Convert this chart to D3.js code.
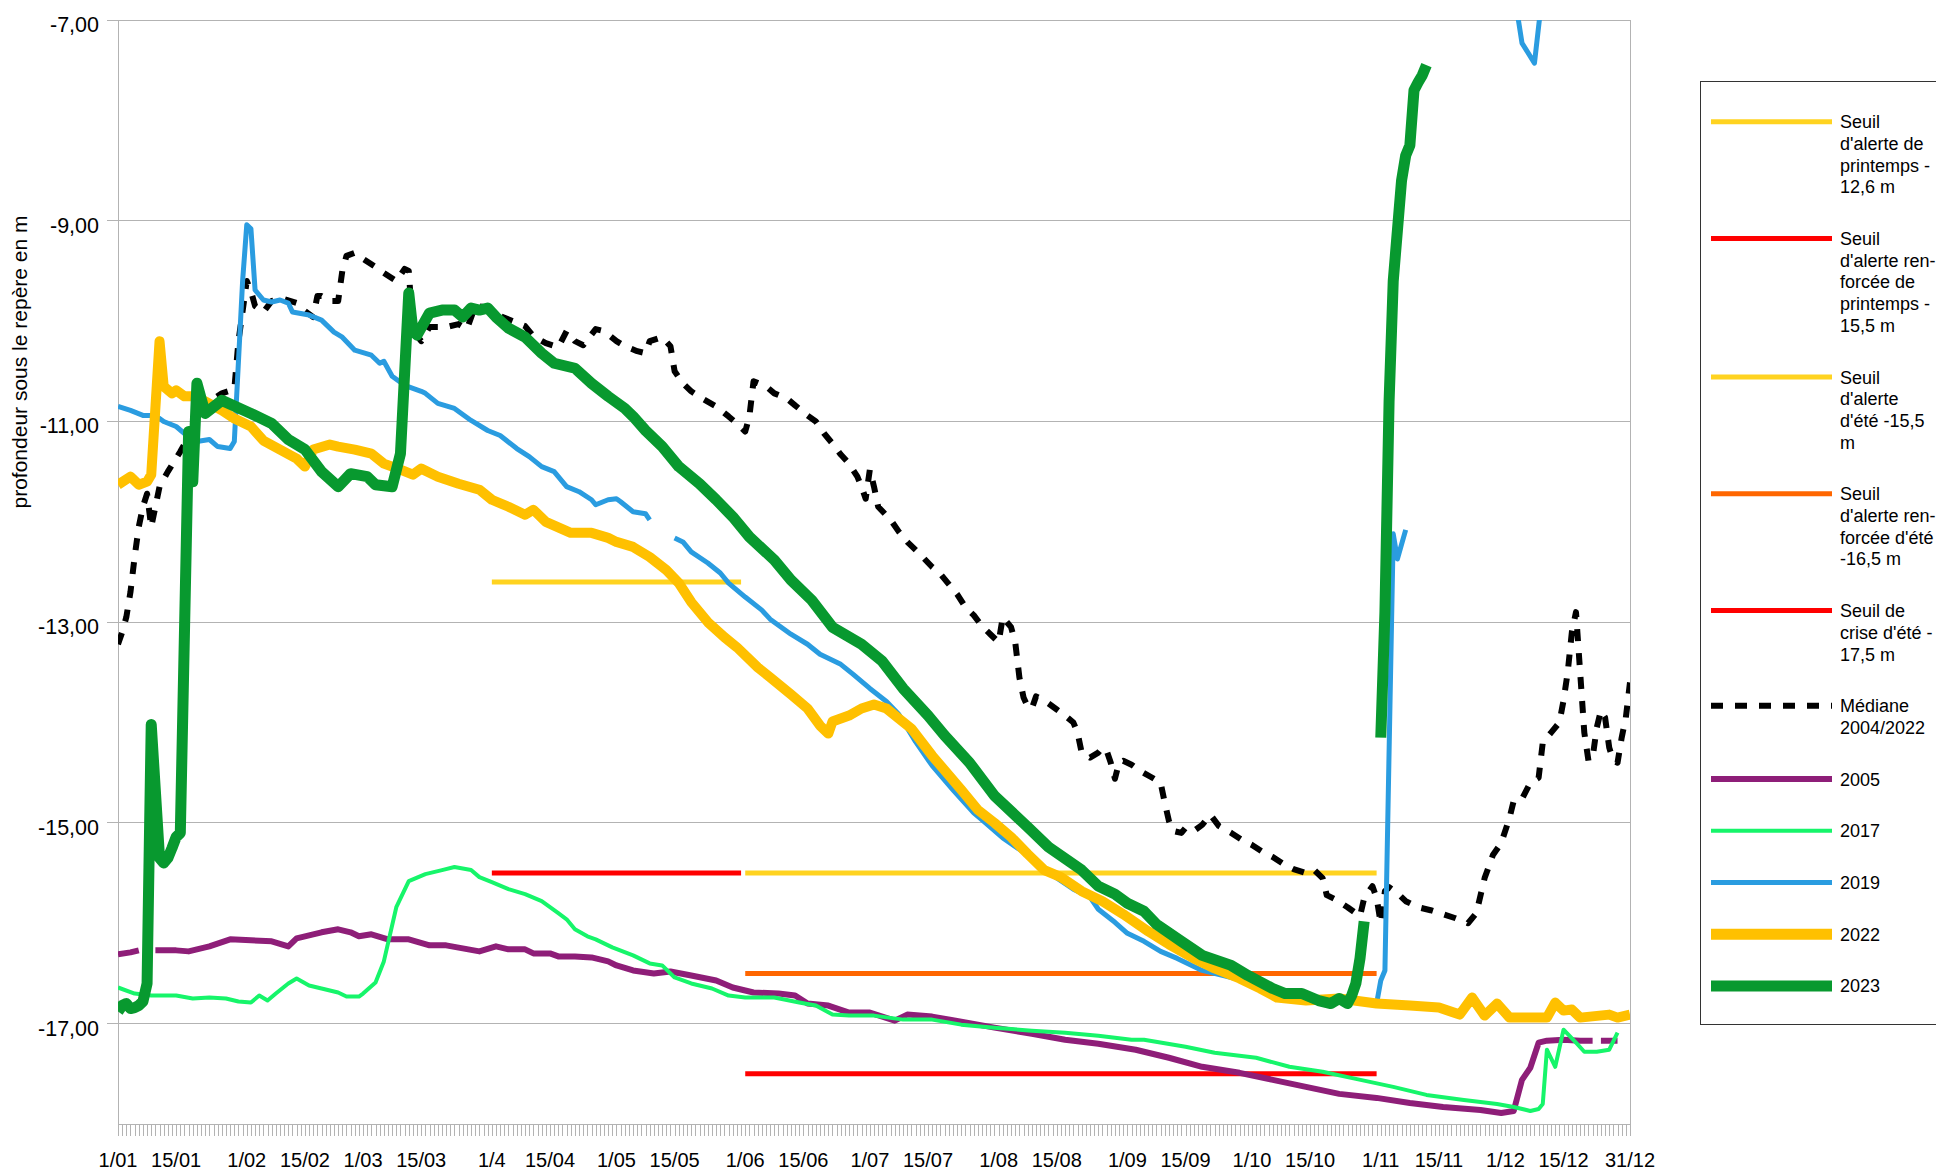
<!DOCTYPE html>
<html>
<head>
<meta charset="utf-8">
<script src="https://cdn.jsdelivr.net/npm/d3@7"></script>
<style>
  html, body { margin: 0; padding: 0; background: #ffffff; }
  svg { display: block; font-family: "Liberation Sans", Arial, sans-serif; }
</style>
</head>
<body>
<svg id="chart" width="1936" height="1171"></svg>
<script>
// ---------------- DATA ----------------
// x = day of year (0 = 1 January), y = depth below reference mark (m)
const xTickLabels = ["1/01","15/01","1/02","15/02","1/03","15/03","1/4","15/04","1/05","15/05","1/06","15/06","1/07","15/07","1/08","15/08","1/09","15/09","1/10","15/10","1/11","15/11","1/12","15/12","31/12"];
const xTickDays   = [0,14,31,45,59,73,90,104,120,134,151,165,181,195,212,226,243,257,273,287,304,318,334,348,364];
const yTickValues = [-7,-9,-11,-13,-15,-17];
const yTickLabels = ["-7,00","-9,00","-11,00","-13,00","-15,00","-17,00"];
const yAxisTitle = "profondeur sous le repère en m";

const thresholdNames  = ["Seuil d'alerte de printemps -12,6 m","Seuil d'alerte renforcée de printemps -15,5 m","Seuil d'alerte d'été -15,5 m","Seuil d'alerte renforcée d'été -16,5 m","Seuil de crise d'été -17,5 m"];
const thresholdValues = [-12.6, -15.5, -15.5, -16.5, -17.5];
const thresholdStart  = [90, 90, 151, 151, 151];
const thresholdEnd    = [150, 150, 303, 303, 303];

const median = [[0,-13.22],[1,-13.1],[2,-12.95],[3,-12.7],[4,-12.35],[5,-12.05],[6,-11.85],[7,-11.72],[8,-12.05],[9,-11.85],[10,-11.65],[12,-11.5],[15,-11.3],[17,-11.15],[19,-11.0],[22,-10.8],[25,-10.72],[28,-10.68],[29,-10.2],[30,-9.9],[31,-9.6],[32,-9.7],[33,-9.85],[35,-9.91],[37,-9.8],[40,-9.78],[43,-9.82],[45,-9.9],[47,-9.96],[48,-9.75],[49,-9.75],[51,-9.8],[53,-9.8],[54,-9.5],[55,-9.35],[57,-9.32],[59,-9.38],[62,-9.46],[64,-9.52],[67,-9.6],[69,-9.48],[70,-9.5],[71,-10.1],[73,-10.2],[75,-10.06],[79,-10.06],[82,-10.03],[84,-10.08],[86,-9.85],[88,-9.86],[90,-9.9],[92,-9.95],[95,-10.0],[98,-10.05],[100,-10.15],[103,-10.22],[106,-10.26],[108,-10.1],[110,-10.2],[112,-10.24],[115,-10.08],[117,-10.1],[120,-10.2],[122,-10.25],[125,-10.3],[127,-10.32],[128,-10.2],[131,-10.16],[133,-10.25],[134,-10.5],[136,-10.62],[138,-10.7],[141,-10.78],[144,-10.85],[147,-10.95],[149,-11.02],[151,-11.1],[152,-10.95],[153,-10.6],[156,-10.65],[158,-10.72],[161,-10.77],[163,-10.84],[166,-10.94],[168,-11.0],[170,-11.12],[172,-11.22],[174,-11.33],[176,-11.42],[178,-11.55],[179,-11.65],[180,-11.77],[181,-11.48],[182,-11.65],[183,-11.85],[186,-11.98],[188,-12.1],[190,-12.2],[193,-12.32],[196,-12.45],[198,-12.52],[200,-12.62],[202,-12.72],[204,-12.85],[206,-12.93],[208,-13.04],[210,-13.12],[212,-13.2],[213,-12.95],[215,-13.05],[216,-13.2],[217,-13.55],[218,-13.75],[219,-13.84],[220,-13.86],[221,-13.74],[223,-13.78],[226,-13.87],[228,-13.93],[230,-14.0],[231,-14.1],[232,-14.3],[234,-14.35],[236,-14.3],[237,-14.25],[238,-14.28],[239,-14.4],[240,-14.56],[241,-14.4],[242,-14.38],[244,-14.42],[246,-14.48],[249,-14.55],[251,-14.6],[252,-14.8],[253,-14.98],[254,-15.08],[256,-15.1],[257,-15.05],[259,-15.08],[261,-15.02],[263,-14.92],[265,-15.03],[268,-15.1],[271,-15.18],[273,-15.22],[276,-15.3],[278,-15.34],[281,-15.42],[283,-15.46],[286,-15.5],[288,-15.47],[290,-15.55],[291,-15.72],[293,-15.76],[296,-15.84],[298,-15.9],[299,-15.93],[300,-15.75],[302,-15.63],[303,-15.75],[304,-16.0],[305,-15.68],[306,-15.64],[308,-15.7],[310,-15.78],[313,-15.84],[316,-15.87],[319,-15.91],[322,-15.95],[325,-16.0],[327,-15.9],[329,-15.55],[331,-15.32],[333,-15.2],[335,-14.95],[336,-14.78],[338,-14.76],[340,-14.6],[342,-14.55],[343,-14.2],[345,-14.1],[347,-14.0],[348,-13.78],[349,-13.5],[350,-13.1],[351,-12.9],[352,-13.5],[353,-14.1],[354,-14.38],[355,-14.35],[356,-14.05],[357,-13.88],[358,-13.95],[359,-14.25],[360,-14.38],[361,-14.4],[362,-14.15],[363,-13.95],[364,-13.6]];

const y2005 = [[0,-16.31],[3,-16.29],[5,-16.27],[6,null],[9,-16.27],[14,-16.27],[17,-16.28],[22,-16.23],[27,-16.16],[32,-16.17],[37,-16.18],[41,-16.23],[43,-16.15],[46,-16.12],[49,-16.09],[53,-16.06],[56,-16.09],[58,-16.13],[61,-16.11],[65,-16.16],[70,-16.16],[75,-16.22],[79,-16.22],[83,-16.25],[87,-16.28],[91,-16.23],[94,-16.26],[98,-16.26],[100,-16.3],[104,-16.3],[106,-16.33],[110,-16.33],[114,-16.34],[118,-16.38],[120,-16.42],[124,-16.47],[129,-16.5],[133,-16.48],[138,-16.52],[144,-16.57],[148,-16.64],[153,-16.69],[159,-16.7],[163,-16.72],[166,-16.8],[171,-16.82],[176,-16.89],[181,-16.89],[187,-16.97],[190,-16.91],[196,-16.93],[203,-16.98],[211,-17.04],[220,-17.1],[228,-17.16],[236,-17.2],[245,-17.26],[253,-17.34],[261,-17.43],[270,-17.49],[278,-17.56],[286,-17.63],[294,-17.7],[303,-17.74],[311,-17.79],[319,-17.83],[328,-17.86],[333,-17.89],[336,-17.87],[338,-17.56],[340,-17.44],[342,-17.19],[344,-17.17],[348,-17.16],[352,-17.17],[355,-17.17],[356,null],[357,-17.17],[361,-17.17]];

const y2017 = [[0,-16.64],[4,-16.7],[8,-16.72],[14,-16.72],[18,-16.75],[22,-16.74],[26,-16.75],[29,-16.78],[32,-16.79],[34,-16.72],[36,-16.77],[38,-16.7],[41,-16.6],[43,-16.55],[46,-16.62],[49,-16.65],[53,-16.69],[55,-16.73],[58,-16.73],[59,-16.7],[62,-16.59],[64,-16.38],[67,-15.84],[70,-15.58],[74,-15.51],[78,-15.47],[81,-15.44],[85,-15.47],[87,-15.54],[90,-15.59],[94,-15.66],[98,-15.71],[102,-15.78],[106,-15.9],[108,-15.96],[110,-16.06],[113,-16.13],[115,-16.16],[119,-16.24],[124,-16.32],[128,-16.4],[131,-16.42],[134,-16.54],[138,-16.6],[143,-16.65],[147,-16.72],[151,-16.74],[158,-16.74],[164,-16.79],[168,-16.82],[172,-16.91],[176,-16.92],[182,-16.92],[189,-16.96],[196,-16.96],[203,-17.01],[211,-17.04],[220,-17.07],[228,-17.09],[236,-17.12],[244,-17.16],[247,-17.16],[257,-17.23],[264,-17.29],[274,-17.34],[282,-17.43],[290,-17.48],[298,-17.55],[307,-17.63],[315,-17.71],[324,-17.76],[332,-17.8],[336,-17.83],[340,-17.87],[342,-17.85],[343,-17.8],[344,-17.26],[346,-17.43],[348,-17.06],[351,-17.19],[353,-17.28],[356,-17.28],[359,-17.26],[361,-17.09]];

const y2019 = [[0,-10.85],[3,-10.89],[6,-10.94],[9,-10.94],[11,-11.0],[14,-11.05],[16,-11.12],[19,-11.2],[22,-11.18],[24,-11.25],[27,-11.27],[28,-11.2],[30,-9.6],[31,-9.04],[32,-9.08],[33,-9.69],[35,-9.79],[37,-9.81],[39,-9.79],[41,-9.82],[42,-9.91],[46,-9.94],[49,-9.99],[52,-10.11],[54,-10.16],[57,-10.29],[61,-10.34],[63,-10.42],[64,-10.4],[66,-10.55],[69,-10.64],[73,-10.7],[74,-10.72],[77,-10.82],[81,-10.87],[85,-10.99],[89,-11.09],[92,-11.14],[96,-11.27],[99,-11.35],[102,-11.45],[105,-11.5],[108,-11.65],[111,-11.7],[114,-11.78],[115,-11.83],[118,-11.78],[120,-11.77],[121,-11.8],[124,-11.9],[127,-11.92],[128,-11.98],[129,null],[134,-12.16],[136,-12.2],[138,-12.3],[142,-12.41],[145,-12.51],[147,-12.61],[151,-12.75],[155,-12.88],[157,-12.97],[162,-13.12],[166,-13.22],[169,-13.32],[174,-13.42],[177,-13.52],[181,-13.66],[185,-13.79],[188,-13.92],[192,-14.19],[196,-14.43],[201,-14.67],[206,-14.9],[208,-14.97],[213,-15.15],[219,-15.32],[225,-15.52],[230,-15.66],[234,-15.74],[236,-15.86],[240,-15.99],[243,-16.1],[247,-16.18],[251,-16.28],[255,-16.35],[261,-16.47],[270,-16.56],[280,-16.72],[290,-16.77],[300,-16.79],[303,-16.8],[304,-16.57],[305,-16.47],[307,-12.12],[308,-12.37],[310,-12.08],[311,null],[336,-6.7],[338,-7.23],[341,-7.43],[343,-6.7]];

const y2022 = [[0,-11.63],[3,-11.55],[5,-11.63],[7,-11.6],[8,-11.53],[10,-10.2],[11,-10.65],[13,-10.72],[14,-10.69],[16,-10.75],[18,-10.75],[21,-10.8],[25,-10.89],[28,-10.97],[32,-11.05],[35,-11.19],[39,-11.28],[43,-11.37],[45,-11.45],[47,-11.28],[51,-11.23],[53,-11.25],[57,-11.28],[61,-11.32],[64,-11.42],[68,-11.48],[71,-11.53],[73,-11.47],[77,-11.55],[82,-11.62],[87,-11.68],[90,-11.78],[94,-11.85],[98,-11.93],[100,-11.88],[103,-12.0],[109,-12.11],[114,-12.11],[118,-12.16],[120,-12.2],[124,-12.25],[128,-12.35],[132,-12.48],[135,-12.61],[138,-12.8],[142,-13.0],[146,-13.15],[149,-13.25],[154,-13.45],[157,-13.55],[162,-13.72],[166,-13.86],[169,-14.03],[171,-14.11],[172,-13.99],[176,-13.93],[179,-13.86],[182,-13.82],[185,-13.86],[188,-13.96],[191,-14.06],[196,-14.33],[203,-14.67],[207,-14.87],[211,-15.0],[215,-15.14],[219,-15.31],[223,-15.47],[227,-15.54],[232,-15.68],[237,-15.78],[242,-15.91],[248,-16.08],[253,-16.21],[259,-16.35],[264,-16.45],[270,-16.55],[275,-16.65],[279,-16.74],[286,-16.77],[294,-16.75],[303,-16.8],[311,-16.82],[318,-16.84],[323,-16.91],[326,-16.74],[329,-16.92],[332,-16.8],[335,-16.94],[344,-16.94],[346,-16.79],[348,-16.87],[350,-16.86],[352,-16.94],[359,-16.91],[361,-16.94],[364,-16.91]];

const y2023 = [[0,-16.88],[1,-16.82],[2,-16.8],[3,-16.85],[4,-16.84],[5,-16.82],[6,-16.78],[7,-16.6],[8,-14.02],[10,-15.35],[11,-15.4],[12,-15.35],[13,-15.25],[14,-15.14],[15,-15.1],[17,-11.1],[18,-11.6],[19,-10.62],[21,-10.92],[25,-10.79],[32,-10.92],[37,-11.02],[41,-11.18],[45,-11.28],[49,-11.5],[53,-11.65],[56,-11.52],[60,-11.55],[62,-11.63],[66,-11.65],[68,-11.32],[70,-9.72],[71,-10.1],[72,-10.14],[75,-9.92],[78,-9.89],[81,-9.89],[83,-9.96],[85,-9.87],[87,-9.89],[89,-9.87],[91,-9.96],[94,-10.07],[98,-10.16],[102,-10.32],[105,-10.42],[110,-10.47],[114,-10.62],[118,-10.75],[122,-10.87],[124,-10.95],[127,-11.09],[131,-11.25],[135,-11.45],[140,-11.62],[144,-11.78],[148,-11.95],[152,-12.15],[158,-12.38],[162,-12.58],[167,-12.78],[172,-13.05],[179,-13.22],[184,-13.39],[189,-13.66],[195,-13.93],[199,-14.13],[205,-14.4],[211,-14.73],[219,-15.04],[224,-15.24],[232,-15.47],[236,-15.63],[240,-15.71],[243,-15.8],[247,-15.88],[250,-16.01],[256,-16.18],[261,-16.32],[268,-16.42],[272,-16.52],[278,-16.65],[281,-16.7],[285,-16.7],[289,-16.77],[292,-16.8],[294,-16.75],[296,-16.8],[297,-16.72],[298,-16.6],[299,-16.35],[300,-15.98],[301,null],[304,-14.15],[305,-12.9],[306,-10.8],[307,-9.6],[308,-9.1],[309,-8.6],[310,-8.35],[311,-8.25],[312,-7.7],[313,-7.62],[314,-7.55],[315,-7.45]];

const seriesNames = ["Médiane 2004/2022","2005","2017","2019","2022","2023"];
const seriesData  = [median, y2005, y2017, y2019, y2022, y2023];

// ---------------- STYLE / LAYOUT ----------------
const thresholdColors = ["#ffd320","#ff0000","#ffd320","#ff6600","#ff0000"];
const seriesStyles = [
  {color:"#000000", width:6, dash:"12 12"},
  {color:"#8e1e78", width:6},
  {color:"#16f56a", width:4},
  {color:"#2a9ce0", width:5},
  {color:"#ffc000", width:10},
  {color:"#08992f", width:11}
];
const legendLines = [
  ["Seuil","d'alerte de","printemps -","12,6 m"],
  ["Seuil","d'alerte ren-","forcée de","printemps -","15,5 m"],
  ["Seuil","d'alerte","d'été -15,5","m"],
  ["Seuil","d'alerte ren-","forcée d'été","-16,5 m"],
  ["Seuil de","crise d'été -","17,5 m"],
  ["Médiane","2004/2022"],
  ["2005"],["2017"],["2019"],["2022"],["2023"]
];

const plot = {left:118, right:1630, top:20, bottom:1124};
const svg = d3.select("#chart");
const x = d3.scaleLinear().domain([0,364]).range([plot.left, plot.right]);
const y = d3.scaleLinear().domain([-18,-7]).range([plot.bottom, plot.top]);
const grid = "#b3b3b3";

// gridlines + left ticks
svg.append("g").selectAll("line").data(yTickValues).join("line")
  .attr("x1", plot.left - 11).attr("x2", plot.right)
  .attr("y1", d => y(d)).attr("y2", d => y(d))
  .attr("stroke", grid).attr("stroke-width", 1).attr("shape-rendering","crispEdges");

// frame
svg.append("line").attr("x1",plot.left).attr("x2",plot.left).attr("y1",plot.top).attr("y2",plot.bottom)
  .attr("stroke",grid).attr("shape-rendering","crispEdges");
svg.append("line").attr("x1",plot.right).attr("x2",plot.right).attr("y1",plot.top).attr("y2",plot.bottom)
  .attr("stroke",grid).attr("shape-rendering","crispEdges");
svg.append("line").attr("x1",plot.left).attr("x2",plot.right).attr("y1",plot.bottom).attr("y2",plot.bottom)
  .attr("stroke",grid).attr("shape-rendering","crispEdges");

// daily minor ticks
svg.append("g").selectAll("line").data(d3.range(0,365)).join("line")
  .attr("x1", d => Math.round(x(d)) + 0.5).attr("x2", d => Math.round(x(d)) + 0.5)
  .attr("y1", plot.bottom).attr("y2", plot.bottom + 12)
  .attr("stroke", grid).attr("stroke-width", 1);

// y labels
svg.append("g").selectAll("text").data(yTickValues).join("text")
  .attr("x", 99).attr("y", d => y(d) + 12)
  .attr("text-anchor","end").attr("font-size", 21.5).attr("fill","#000")
  .text((d,i) => yTickLabels[i]);

// x labels
svg.append("g").selectAll("text").data(xTickDays).join("text")
  .attr("x", d => x(d)).attr("y", 1166.5)
  .attr("text-anchor","middle").attr("font-size", 20).attr("fill","#000")
  .text((d,i) => xTickLabels[i]);

// y title
svg.append("text").attr("transform","translate(27,362) rotate(-90)")
  .attr("text-anchor","middle").attr("font-size", 21).attr("fill","#000")
  .text(yAxisTitle);

// clip
svg.append("clipPath").attr("id","plotclip").append("rect")
  .attr("x", plot.left).attr("y", plot.top)
  .attr("width", plot.right - plot.left).attr("height", plot.bottom - plot.top);
const gPlot = svg.append("g").attr("clip-path","url(#plotclip)");

// thresholds
thresholdValues.forEach((v,i) => {
  gPlot.append("line")
    .attr("x1", x(thresholdStart[i])).attr("x2", x(thresholdEnd[i]))
    .attr("y1", y(v)).attr("y2", y(v))
    .attr("stroke", thresholdColors[i]).attr("stroke-width", 5);
});

// series
const line = d3.line().defined(d => d[1] !== null).x(d => x(d[0])).y(d => y(d[1]));
seriesData.forEach((data,i) => {
  const s = seriesStyles[i];
  gPlot.append("path").datum(data)
    .attr("d", line).attr("fill","none")
    .attr("stroke", s.color).attr("stroke-width", s.width)
    .attr("stroke-linejoin","round").attr("stroke-linecap","butt")
    .attr("stroke-dasharray", s.dash || null);
});

// legend
const legend = svg.append("g");
legend.append("rect").attr("x",1700.5).attr("y",81.5).attr("width",300).attr("height",943)
  .attr("fill","#fff").attr("stroke","#333").attr("stroke-width",1);
const lineH = 21.7, gap = 30;
const legendStyles = thresholdColors.map(c => ({color:c, width:5})).concat(seriesStyles.map(s => ({color:s.color, width:s.width>=10?11:s.width, dash:s.dash})));
let ly = 121.7;
legendLines.forEach((lines,i) => {
  const st = legendStyles[i];
  legend.append("line").attr("x1",1711).attr("x2",1832).attr("y1",ly).attr("y2",ly)
    .attr("stroke",st.color).attr("stroke-width",st.width)
    .attr("stroke-dasharray", st.dash || null);
  const t = legend.append("text").attr("font-size",18).attr("fill","#000");
  lines.forEach((ln,k) => {
    t.append("tspan").attr("x",1840).attr("y", ly + k*lineH + 6.5).text(ln);
  });
  ly += lines.length*lineH + gap;
});
</script>
</body>
</html>
